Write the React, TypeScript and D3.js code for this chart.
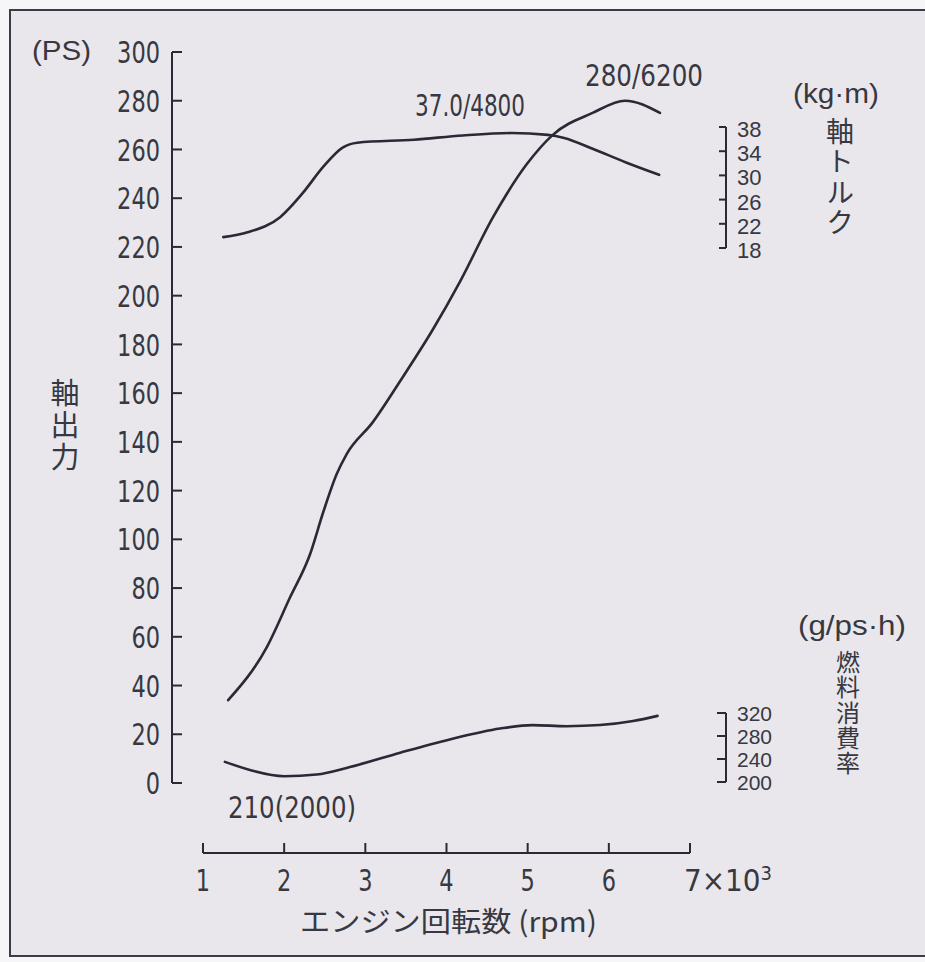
import React from "react";
import * as d3 from "d3";

// engine speed (x 1000 rpm) / shaft power (PS)
const powerRpm = [1.31, 1.79, 2.07, 2.32, 2.48, 2.65, 2.77, 3.09, 3.43, 3.83, 4.17, 4.57, 4.99, 5.31, 5.8, 6.2, 6.63];
const powerPS = [34, 56, 76, 94, 111, 127, 135, 148, 165, 186, 206, 232, 254, 266, 275, 280, 275];

// shaft torque (kg·m)
const torqueRpm = [1.25, 1.55, 1.95, 2.23, 2.48, 2.72, 2.9, 3.6, 4.2, 4.8, 5.25, 5.45, 5.8, 6.22, 6.62];
const torqueKgm = [19.8, 20.6, 23.1, 27.1, 31.4, 34.6, 35.4, 35.9, 36.6, 37.0, 36.7, 36.2, 34.4, 32.1, 30.1];

// fuel consumption (g/ps·h)
const fuelRpm = [1.27, 1.6, 2.0, 2.4, 2.81, 3.43, 4.04, 4.66, 5.06, 5.48, 5.89, 6.3, 6.6];
const fuelGpsh = [235, 220, 210, 213, 226, 251, 274, 293, 299, 297, 299, 306, 315];

const xTicks = [1, 2, 3, 4, 5, 6, 7];
const powerTicks = d3.range(0, 301, 20);
const torqueTicks = [38, 34, 30, 26, 22, 18];
const fuelTicks = [320, 280, 240, 200];

const NUM = "'Liberation Sans Narrow', 'Arial Narrow', 'DejaVu Sans Condensed', sans-serif";
const SANS = "'Liberation Sans', Arial, sans-serif";
const JP = "'Noto Sans CJK JP', 'Noto Sans CJK SC', sans-serif";
const INK = "#383842";
const LINE = "#2a2a36";

// narrow, tall digits like the printed original
const numW = (s: string) => s.length * 14.3;

// vertical Japanese label, x = centre line, top = top edge of first glyph
const VText = ({ x, top, size, step, children }: { x: number; top: number; size: number; step: number; children: string }) => (
  <text
    x={x}
    y={top}
    fontFamily={JP}
    fontSize={size}
    fill={INK}
    style={{ writingMode: "vertical-rl", letterSpacing: `${step - size}px` }}
  >
    {children}
  </text>
);

export default function App() {
  const x = d3.scaleLinear().domain([1, 7]).range([203, 690]);
  const yP = d3.scaleLinear().domain([0, 300]).range([783, 52]);
  const yT = d3.scaleLinear().domain([18, 38]).range([248, 127]);
  const yF = d3.scaleLinear().domain([200, 320]).range([782, 713]);

  const mk = (xs: number[], ys: number[], sy: d3.ScaleLinear<number, number>) =>
    d3
      .line<number>()
      .x((d) => x(xs[d]))
      .y((d) => sy(ys[d]))
      .curve(d3.curveMonotoneX)(d3.range(xs.length)) as string;

  const axisX0 = 172;
  const smallAxisX = 726;

  return (
    <svg
      width={925}
      height={962}
      style={{ position: "absolute", left: 0, top: 0, display: "block" }}
    >
      <rect x={0} y={0} width={925} height={962} fill="#f6f5f7" />
      <rect x={10} y={10} width={930} height={946} fill="#e9e7eb" stroke="#3c3c44" strokeWidth={2} />

      {/* left power axis */}
      <line x1={axisX0} x2={axisX0} y1={yP(300)} y2={yP(0)} stroke={LINE} strokeWidth={2} />
      {powerTicks.map((t) => (
        <g key={t}>
          <line x1={axisX0} x2={axisX0 + 10} y1={yP(t)} y2={yP(t)} stroke={LINE} strokeWidth={2} />
          <text
            x={160}
            y={yP(t)}
            dy="0.36em"
            textAnchor="end"
            fontFamily={NUM}
            fontSize={31}
            fill={INK}
            textLength={numW(String(t))}
            lengthAdjust="spacingAndGlyphs"
          >
            {t}
          </text>
        </g>
      ))}
      <text x={32} y={50} dy="0.36em" fontFamily={SANS} fontSize={28} fill={INK} textLength={59} lengthAdjust="spacingAndGlyphs">
        (PS)
      </text>
      <VText x={65} top={378} size={29} step={32}>軸出力</VText>

      {/* torque scale */}
      <line x1={smallAxisX} x2={smallAxisX} y1={yT(38)} y2={yT(18)} stroke={LINE} strokeWidth={2} />
      {torqueTicks.map((t) => (
        <g key={t}>
          <line x1={smallAxisX - 7} x2={smallAxisX} y1={yT(t)} y2={yT(t)} stroke={LINE} strokeWidth={2} />
          <text x={737} y={yT(t) + 2} dy="0.36em" fontFamily={SANS} fontSize={22} fill={INK}>
            {t}
          </text>
        </g>
      ))}
      <text x={793} y={93} dy="0.36em" fontFamily={SANS} fontSize={27} fill={INK} textLength={86} lengthAdjust="spacingAndGlyphs">
        (kg·m)
      </text>
      <VText x={840} top={117} size={28} step={30.5}>軸トルク</VText>

      {/* fuel scale */}
      <line x1={smallAxisX} x2={smallAxisX} y1={yF(320)} y2={yF(200)} stroke={LINE} strokeWidth={2} />
      {fuelTicks.map((t) => (
        <g key={t}>
          <line x1={smallAxisX - 9} x2={smallAxisX} y1={yF(t)} y2={yF(t)} stroke={LINE} strokeWidth={2} />
          <text x={737} y={yF(t)} dy="0.36em" fontFamily={SANS} fontSize={21} fill={INK}>
            {t}
          </text>
        </g>
      ))}
      <text x={798} y={625} dy="0.36em" fontFamily={SANS} fontSize={27} fill={INK} textLength={108} lengthAdjust="spacingAndGlyphs">
        (g/ps·h)
      </text>
      <VText x={848} top={650} size={24} step={25.3}>燃料消費率</VText>

      {/* x axis */}
      <line x1={x(1)} x2={x(7)} y1={853} y2={853} stroke={LINE} strokeWidth={2} />
      {xTicks.map((t) => (
        <line key={t} x1={x(t)} x2={x(t)} y1={853} y2={843} stroke={LINE} strokeWidth={2} />
      ))}
      {xTicks.slice(0, -1).map((t) => (
        <text
          key={t}
          x={x(t)}
          y={880}
          dy="0.36em"
          textAnchor="middle"
          fontFamily={NUM}
          fontSize={31}
          fill={INK}
          textLength={numW(String(t))}
          lengthAdjust="spacingAndGlyphs"
        >
          {t}
        </text>
      ))}
      <text x={x(7) - 6} y={880} dy="0.36em" fontFamily={NUM} fontSize={31} fill={INK}>
        {xTicks[xTicks.length - 1]}×10
        <tspan fontSize={20} dy="-0.55em">3</tspan>
      </text>
      <text x={300} y={922} dy="0.36em" fontFamily={JP} fontSize={28} fill={INK} textLength={297} lengthAdjust="spacingAndGlyphs">
        エンジン回転数 (rpm)
      </text>

      {/* curves */}
      <path d={mk(powerRpm, powerPS, yP)} fill="none" stroke={LINE} strokeWidth={2.6} strokeLinecap="round" />
      <path d={mk(torqueRpm, torqueKgm, yT)} fill="none" stroke={LINE} strokeWidth={2.6} strokeLinecap="round" />
      <path d={mk(fuelRpm, fuelGpsh, yF)} fill="none" stroke={LINE} strokeWidth={2.6} strokeLinecap="round" />

      {/* annotations */}
      <text x={415} y={105} dy="0.36em" fontFamily={NUM} fontSize={31} fill={INK} textLength={110} lengthAdjust="spacingAndGlyphs">
        37.0/4800
      </text>
      <text x={585} y={75} dy="0.36em" fontFamily={NUM} fontSize={31} fill={INK} textLength={118} lengthAdjust="spacingAndGlyphs">
        280/6200
      </text>
      <text x={228} y={807} dy="0.36em" fontFamily={NUM} fontSize={31} fill={INK} textLength={128} lengthAdjust="spacingAndGlyphs">
        210(2000)
      </text>
    </svg>
  );
}
